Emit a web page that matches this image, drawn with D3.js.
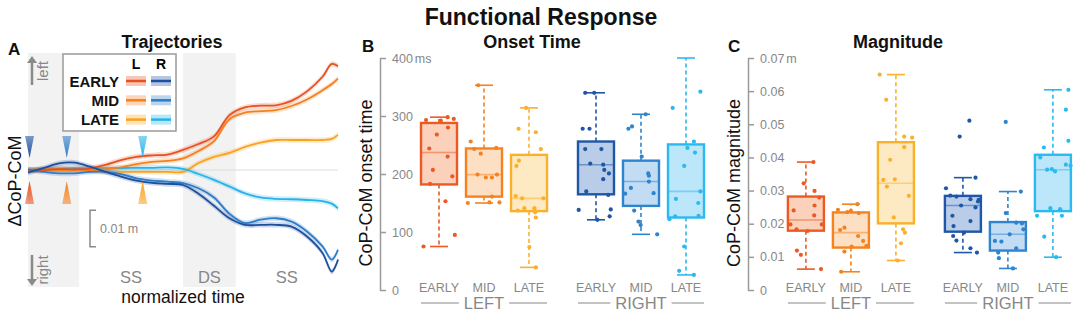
<!DOCTYPE html>
<html><head><meta charset="utf-8">
<script src="https://cdn.jsdelivr.net/npm/d3@7"></script>
<style>
body{margin:0;background:#fff}
svg{display:block}
text{font-family:"Liberation Sans",Arial,Helvetica,sans-serif}
</style>
</head><body>
<svg id="c" width="1082" height="315"></svg>
<script>
// ---------------- DATA ----------------
// Panel A: trajectories (mm, ΔCoP-CoM), normalized time 0-100
const timePts = [0,5,10,15,20,25,30,35,40,45,50,55,60,65,70,75,80,85,90,95,98,100];
const trajLeftEarly  = [-0.2,0,0.2,0.2,0.4,1.4,2.7,3.6,4.0,4.2,5.5,7.1,9.2,15.0,17.1,17.6,17.7,18.9,21.5,25.5,29.0,28.4];
const trajLeftMid    = [0,0.2,0.2,0,0,0.2,0.7,1.6,2.2,2.5,3.2,5.2,7.9,13.9,15.7,16.1,16.4,17.5,19.3,21.8,23.5,25.0];
const trajLeftLate   = [0,0,0,-0.2,-0.3,-0.5,-0.5,-0.5,-0.5,-0.5,-0.5,1.9,3.6,4.7,6.3,7.5,8.2,8.2,8.2,8.2,8.5,9.6];
const trajRightEarly = [-0.7,0.5,1.8,2.0,0.9,-0.5,-1.8,-2.9,-3.5,-3.8,-4.1,-6.5,-9.8,-13.2,-15.0,-15.0,-15.0,-15.5,-18.2,-22.7,-27.8,-24.5];
const trajRightMid   = [0.2,-0.5,-0.9,-0.9,-0.5,-0.5,-1.1,-2.3,-2.9,-3.2,-3.6,-5.0,-7.5,-12.0,-14.5,-13.6,-13.2,-14.1,-16.8,-20.9,-24.5,-21.8];
const trajRightLate  = [0,0.2,0.4,0.5,0.5,0.5,0.55,0.6,0.6,0.7,0.3,-1.1,-2.7,-4.5,-6.4,-7.5,-7.9,-8.0,-8.2,-8.5,-9.2,-10.5];
const phaseBounds = [0,16.5,50,67,100];
const phaseLabels = ["","SS","DS","SS"];
const onsetMarks = [0.5,12.5,37];
const legendRows = ["EARLY","MID","LATE"];

// Panel B: onset time (ms)  order: L-EARLY, L-MID, L-LATE, R-EARLY, R-MID, R-LATE
const groups = ["LEFT","RIGHT"];
const cats = ["EARLY","MID","LATE"];
const onsetTicks = [0,100,200,300,400];
const onsetLo  = [75,150,39,121,96,26];
const onsetQ1  = [182,161,136,165,145,125];
const onsetMed = [237,199,158,216,187,170];
const onsetQ3  = [288,244,233,256,223,251];
const onsetHi  = [298,353,314,340,303,400];
const onsetLE = [293,292,298,295,280,268,244,230,207,196,183,153,95,75];
const onsetLEj = [-0.36,0.05,0.24,0.41,0.25,-0.06,-0.27,0.24,-0.17,0.37,-0.25,0.18,0.44,-0.43];
const onsetLM = [256,243,235,245,199,194,194,199,161,151,151,150,353];
const onsetLMj = [-0.37,-0.27,-0.09,0.34,-0.18,0.05,0.22,0.36,0.22,0.15,0.43,-0.45,-0.16];
const onsetLL = [278,272,243,223,214,162,158,158,137,141,141,134,125,74,39,314];
const onsetLLj = [-0.29,0.19,0.33,-0.28,-0.35,-0.37,-0.19,0.4,-0.31,-0.13,0.15,0.17,0.19,0.01,0.19,-0.08];
const onsetRE = [340,340,278,278,243,243,218,216,207,201,191,170,164,138,139,127,121];
const onsetREj = [-0.3,-0.05,-0.37,-0.18,-0.3,0.15,-0.16,0.2,0.23,0.36,0.2,-0.27,0.34,-0.48,0.41,0.38,0.04];
const onsetRM = [278,282,303,230,176,201,197,187,167,166,137,118,112,96];
const onsetRMj = [-0.35,-0.25,0.13,0.02,-0.28,0.2,0.22,0.22,0.35,-0.44,-0.19,-0.07,-0.01,0.45];
const onsetRL = [342,314,256,245,237,214,170,157,150,127,128,122,75,33,26];
const onsetRLj = [0.4,-0.37,0.22,0.04,0.25,-0.05,0.4,-0.28,0.34,-0.3,0.35,-0.46,-0.05,-0.19,0.22];

// Panel C: magnitude (m)
const magTicks = [0,0.01,0.02,0.03,0.04,0.05,0.06,0.07];
const magLo  = [0.0063,0.0055,0.0089,0.0113,0.0065,0.0099];
const magQ1  = [0.0179,0.0128,0.0201,0.0176,0.0119,0.0238];
const magMed = [0.0211,0.0173,0.0322,0.0255,0.0168,0.0363];
const magQ3  = [0.0282,0.0234,0.0446,0.0284,0.0205,0.0408];
const magHi  = [0.0386,0.0259,0.0650,0.0339,0.0297,0.0604];
const magLE = [0.0386,0.0322,0.0299,0.0279,0.0240,0.0255,0.0225,0.0198,0.0198,0.0183,0.0178,0.0119,0.0106,0.0063];
const magLEj = [0.21,-0.06,0.24,0.37,-0.34,0.24,0.23,-0.43,0.44,-0.26,0.05,-0.25,-0.14,0.42];
const magLM = [0.0242,0.0235,0.0239,0.0232,0.0259,0.0188,0.0181,0.0163,0.0148,0.0133,0.0116,0.0131,0.0055];
const magLMj = [-0.36,-0.1,0,0.22,0.18,-0.18,-0.3,0.2,0.34,0.43,-0.18,0.02,-0.27];
const magLL = [0.065,0.0574,0.0463,0.046,0.0431,0.0393,0.0332,0.0334,0.0312,0.0284,0.0219,0.0183,0.0173,0.0141,0.0089];
const magLLj = [-0.45,-0.27,0.23,0.45,0.23,-0.16,-0.35,-0.03,-0.25,0.36,-0.06,0.2,0.25,0.14,0.05];
const magRE = [0.0511,0.0463,0.0339,0.0307,0.0285,0.0282,0.0274,0.0272,0.0267,0.0255,0.0249,0.0224,0.0208,0.0193,0.0173,0.0163,0.0149,0.0126,0.0113];
const magREj = [0.18,-0.09,0.35,-0.47,-0.35,-0.18,0.21,0.44,0.42,-0.05,0.35,-0.29,0.21,-0.26,0.03,-0.27,-0.18,0.21,0.39];
const magRM = [0.0507,0.0297,0.0232,0.0203,0.0201,0.0183,0.0168,0.0148,0.0146,0.0126,0.0113,0.0096,0.0065];
const magRMj = [-0.06,0.36,-0.06,0.23,0.39,0.43,0.05,-0.36,-0.18,0.23,-0.27,-0.25,0.14];
const magRL = [0.0604,0.0544,0.045,0.043,0.040,0.0378,0.0375,0.0363,0.0365,0.0358,0.0224,0.0247,0.0244,0.0224,0.0161,0.0099];
const magRLj = [0.43,0.36,0.43,-0.25,-0.35,0.36,0.49,-0.16,-0.03,0.06,-0.44,-0.07,0.2,0.25,-0.24,0.09];

// ---------------- STYLE ----------------
const lineL = ["#e9501f","#f5801f","#f9a21f"];
const lineR = ["#1d4f9f","#2d7dc8","#26b3ea"];
const strokeBox = ["#ec5a24","#f5821f","#fbb02c","#1f57a8","#2f84cd","#2bbaef"];
const fillBox   = ["#fbd1bb","#fde0c3","#feeac2","#b9cce8","#c2dcf3","#bce6fa"];
const GRAY = "#878787";

const svg = d3.select("#c");
svg.append("rect").attr("width",1082).attr("height",315).attr("fill","#fff");

svg.append("text").attr("x",541).attr("y",25).attr("text-anchor","middle")
  .attr("font-size",23).attr("font-weight","bold").attr("fill","#111").text("Functional Response");

// ---------------- PANEL A ----------------
const ax = d3.scaleLinear().domain([0,100]).range([28,338]);
const ay = d3.scaleLinear().domain([-32,32]).range([287,53]);
const gA = svg.append("g");

for (let i=0;i<phaseLabels.length;i++){
  if (i%2===0){
    gA.append("rect").attr("x",ax(phaseBounds[i])).attr("y",ay(32))
      .attr("width",ax(phaseBounds[i+1])-ax(phaseBounds[i])).attr("height",ay(-32)-ay(32))
      .attr("fill","#f2f2f2");
  }
  if (phaseLabels[i]){
    gA.append("text").attr("x",ax((phaseBounds[i]+phaseBounds[i+1])/2)).attr("y",283)
      .attr("text-anchor","middle").attr("font-size",16.5).attr("fill",GRAY).text(phaseLabels[i]);
  }
}
gA.append("line").attr("x1",ax(0)).attr("x2",ax(100)).attr("y1",ay(0)).attr("y2",ay(0))
  .attr("stroke","#dcdcdc").attr("stroke-width",1);

const trajs = [
  {v:trajLeftLate,c:lineL[2]},{v:trajRightLate,c:lineR[2]},
  {v:trajLeftMid,c:lineL[1]},{v:trajLeftEarly,c:lineL[0]},
  {v:trajRightMid,c:lineR[1]},{v:trajRightEarly,c:lineR[0]}
];
const area = d3.area().x((d,i)=>ax(timePts[i])).y0(d=>ay(d-0.75)).y1(d=>ay(d+0.75)).curve(d3.curveCatmullRom.alpha(0.5));
const line = d3.line().x((d,i)=>ax(timePts[i])).y(d=>ay(d)).curve(d3.curveCatmullRom.alpha(0.5));
trajs.forEach(t=>{
  gA.append("path").attr("d",area(t.v)).attr("fill",t.c).attr("opacity",0.22);
});
trajs.forEach(t=>{
  gA.append("path").attr("d",line(t.v)).attr("fill","none").attr("stroke",t.c).attr("stroke-width",1.8);
});

const defs = svg.append("defs");
function grad(id,color,up){
  const g = defs.append("linearGradient").attr("id",id).attr("x1",0).attr("x2",0)
    .attr("y1",up?1:0).attr("y2",up?0:1);
  g.append("stop").attr("offset","0%").attr("stop-color",color).attr("stop-opacity",0.55);
  g.append("stop").attr("offset","100%").attr("stop-color",color).attr("stop-opacity",1);
}
onsetMarks.forEach((t,i)=>{
  grad("gr"+i,lineR[i],false);
  grad("gl"+i,lineL[i],true);
  const x = ax(t);
  gA.append("path").attr("d",`M${x-4.5},136 L${x+4.5},136 L${x},158 Z`).attr("fill",`url(#gr${i})`);
  gA.append("path").attr("d",`M${x-4.5},204 L${x+4.5},204 L${x},181 Z`).attr("fill",`url(#gl${i})`);
});

const arr = (y1,y2)=>{
  gA.append("line").attr("x1",32).attr("x2",32).attr("y1",y1).attr("y2",y2+(y2<y1?4:-4))
    .attr("stroke","#8a8a8a").attr("stroke-width",2.5);
  const d = y2<y1 ? `M27,${y2+7} L37,${y2+7} L32,${y2} Z` : `M27,${y2-7} L37,${y2-7} L32,${y2} Z`;
  gA.append("path").attr("d",d).attr("fill","#8a8a8a");
};
arr(85,56); arr(255,286);
gA.append("text").attr("transform","translate(48,71) rotate(-90)").attr("text-anchor","middle")
  .attr("font-size",15).attr("fill",GRAY).text("left");
gA.append("text").attr("transform","translate(48,270) rotate(-90)").attr("text-anchor","middle")
  .attr("font-size",15).attr("fill",GRAY).text("right");

gA.append("text").attr("transform","translate(21,181) rotate(-90)").attr("text-anchor","middle")
  .attr("font-size",18).attr("fill","#111").text("ΔCoP-CoM");
gA.append("text").attr("x",183).attr("y",303).attr("text-anchor","middle")
  .attr("font-size",17.5).attr("fill","#111").text("normalized time");

const sbx = ax(20);
gA.append("path").attr("d",`M${sbx+6},${ay(-11)} L${sbx},${ay(-11)} L${sbx},${ay(-21)} L${sbx+6},${ay(-21)}`)
  .attr("fill","none").attr("stroke","#8a8a8a").attr("stroke-width",1.5);
gA.append("text").attr("x",sbx+10).attr("y",ay(-16)+4).attr("font-size",12.5).attr("fill",GRAY).text("0.01 m");

const lg = gA.append("g");
lg.append("rect").attr("x",63).attr("y",54).attr("width",113).attr("height",77)
  .attr("fill","#fff").attr("stroke","#9a9a9a").attr("stroke-width",1.5);
lg.append("text").attr("x",136).attr("y",69).attr("text-anchor","middle").attr("font-size",14).attr("font-weight","bold").text("L");
lg.append("text").attr("x",161).attr("y",69).attr("text-anchor","middle").attr("font-size",14).attr("font-weight","bold").text("R");
legendRows.forEach((r,i)=>{
  const cy = 81 + i*19.3;
  lg.append("text").attr("x",119).attr("y",cy+5.5).attr("text-anchor","end").attr("font-size",15)
    .attr("font-weight","bold").attr("fill","#111").text(r);
  [[126,lineL[i]],[151,lineR[i]]].forEach(([x,c])=>{
    lg.append("rect").attr("x",x).attr("y",cy-5).attr("width",20).attr("height",10).attr("fill",c).attr("opacity",0.32);
    lg.append("line").attr("x1",x).attr("x2",x+20).attr("y1",cy).attr("y2",cy).attr("stroke",c).attr("stroke-width",2.5);
  });
});

function letter(x,y,t){ svg.append("text").attr("x",x).attr("y",y).attr("font-size",17).attr("font-weight","bold").attr("fill","#111").text(t); }
function ptitle(x,t){ svg.append("text").attr("x",x).attr("y",48).attr("text-anchor","middle").attr("font-size",18).attr("font-weight","bold").attr("fill","#111").text(t); }
letter(8,55,"A"); letter(362,52,"B"); letter(728,52,"C");
ptitle(172,"Trajectories"); ptitle(532,"Onset Time"); ptitle(898,"Magnitude");

// ---------------- BOX PANELS ----------------
function boxPanel(cfg){
  const g = svg.append("g");
  const y = d3.scaleLinear().domain(cfg.domain).range([290,58]);
  const outer = d3.scaleBand().domain(groups).range(cfg.range).paddingInner(0.14).paddingOuter(0);
  const inner = d3.scaleBand().domain(cats).range([0,outer.bandwidth()]).paddingInner(0.2).paddingOuter(0.1);
  const bw = inner.bandwidth();

  const axis = d3.axisRight(y).tickValues(cfg.ticks).tickSize(6).tickSizeOuter(0).tickPadding(6).tickFormat(cfg.fmt);
  const ag = g.append("g").attr("transform",`translate(${cfg.axisX},0)`).call(axis);
  ag.select(".domain").attr("stroke","#9a9a9a").attr("stroke-width",1.5);
  ag.selectAll(".tick line").attr("stroke","#9a9a9a").attr("stroke-width",1.5);
  ag.selectAll(".tick text").attr("fill",GRAY).attr("font-size",12.5).attr("font-family","Liberation Sans, Arial, sans-serif");
  const last = cfg.ticks[cfg.ticks.length-1];
  ag.selectAll(".tick").filter(d=>d===last).select("text").append("tspan").attr("dx",2).text(cfg.unit);

  g.append("text").attr("transform",`translate(${cfg.axisX-8},183) rotate(-90)`).attr("text-anchor","middle")
    .attr("font-size",18).attr("fill","#111").text(cfg.title);

  const idx = [];
  groups.forEach(gr=>cats.forEach(c=>idx.push([gr,c])));
  idx.forEach(([gr,c],k)=>{
    const x0 = outer(gr)+inner(c), cx = x0+bw/2;
    const col = strokeBox[k];
    g.append("line").attr("x1",cx).attr("x2",cx).attr("y1",y(cfg.q3[k])).attr("y2",y(cfg.hi[k]))
      .attr("stroke",col).attr("stroke-width",1.6).attr("stroke-dasharray","4,3");
    g.append("line").attr("x1",cx).attr("x2",cx).attr("y1",y(cfg.q1[k])).attr("y2",y(cfg.lo[k]))
      .attr("stroke",col).attr("stroke-width",1.6).attr("stroke-dasharray","4,3");
    [cfg.hi[k],cfg.lo[k]].forEach(v=>{
      g.append("line").attr("x1",cx-bw*0.25).attr("x2",cx+bw*0.25).attr("y1",y(v)).attr("y2",y(v))
        .attr("stroke",col).attr("stroke-width",1.6);
    });
    g.append("rect").attr("x",x0).attr("y",y(cfg.q3[k])).attr("width",bw).attr("height",y(cfg.q1[k])-y(cfg.q3[k]))
      .attr("fill",fillBox[k]).attr("stroke",col).attr("stroke-width",2.4);
    g.append("line").attr("x1",x0+1).attr("x2",x0+bw-1).attr("y1",y(cfg.med[k])).attr("y2",y(cfg.med[k]))
      .attr("stroke",col).attr("stroke-opacity",0.5).attr("stroke-width",1.6);
    const vals = cfg.pts[k], jit = cfg.jit[k];
    vals.forEach((v,i)=>{
      g.append("circle").attr("cx",cx+jit[i]*bw).attr("cy",y(v)).attr("r",2.1).attr("fill",col);
    });
    g.append("text").attr("x",cx).attr("y",292).attr("text-anchor","middle").attr("font-size",12.5)
      .attr("fill",GRAY).text(c);
  });
  groups.forEach(gr=>{
    const x0 = outer(gr)+inner("EARLY"), x1 = outer(gr)+inner("LATE")+bw, cx=(x0+x1)/2;
    const t = g.append("text").attr("x",cx).attr("y",309).attr("text-anchor","middle").attr("font-size",16.5)
      .attr("fill",GRAY).text(gr);
    const w = t.node().getComputedTextLength();
    g.append("line").attr("x1",x0).attr("x2",cx-w/2-5).attr("y1",303).attr("y2",303).attr("stroke",GRAY).attr("stroke-width",1.2);
    g.append("line").attr("x1",cx+w/2+5).attr("x2",x1).attr("y1",303).attr("y2",303).attr("stroke",GRAY).attr("stroke-width",1.2);
  });
}

boxPanel({
  domain:[0,400], ticks:onsetTicks, range:[416.5,708.5], axisX:380, unit:"ms",
  fmt:d=>String(d), title:"CoP-CoM onset time",
  lo:onsetLo,q1:onsetQ1,med:onsetMed,q3:onsetQ3,hi:onsetHi,
  pts:[onsetLE,onsetLM,onsetLL,onsetRE,onsetRM,onsetRL],
  jit:[onsetLEj,onsetLMj,onsetLLj,onsetREj,onsetRMj,onsetRLj]
});
boxPanel({
  domain:[0,0.07], ticks:magTicks, range:[783.4,1075.4], axisX:748, unit:"m",
  fmt:d=>d===0?"0":d3.format(".2f")(d), title:"CoP-CoM magnitude",
  lo:magLo,q1:magQ1,med:magMed,q3:magQ3,hi:magHi,
  pts:[magLE,magLM,magLL,magRE,magRM,magRL],
  jit:[magLEj,magLMj,magLLj,magREj,magRMj,magRLj]
});
</script>
</body></html>
